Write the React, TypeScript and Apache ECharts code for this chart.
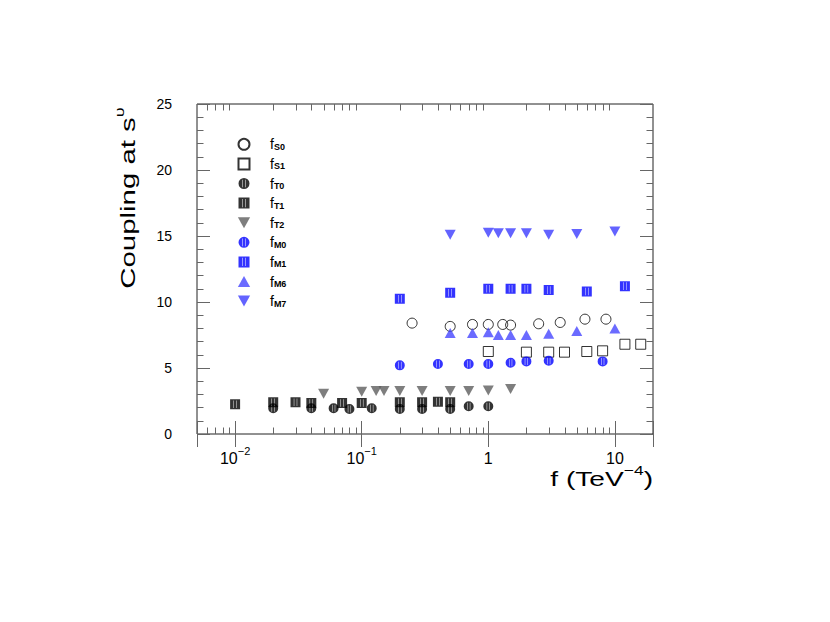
import React, { useEffect, useRef } from "react";
import * as echarts from "echarts";

// ---- data ----
const seriesNames = ["fS0", "fS1", "fT0", "fT1", "fT2", "fM0", "fM1", "fM6", "fM7"];

const fS0x = [0.25, 0.5, 0.75, 1.0, 1.3, 1.5, 2.5, 3.7, 5.8, 8.5];
const fS0y = [8.4, 8.15, 8.3, 8.3, 8.3, 8.25, 8.35, 8.45, 8.7, 8.7];

const fS1x = [1, 2, 3, 4, 6, 8, 12, 16];
const fS1y = [6.25, 6.2, 6.2, 6.2, 6.25, 6.3, 6.8, 6.8];

const fT0x = [0.02, 0.04, 0.06, 0.08, 0.12, 0.2, 0.3, 0.5, 0.7, 1.0];
const fT0y = [1.95, 1.95, 1.95, 1.9, 1.95, 1.9, 1.9, 1.9, 2.1, 2.1];

const fT1x = [0.01, 0.02, 0.03, 0.04, 0.07, 0.1, 0.2, 0.3, 0.4, 0.5];
const fT1y = [2.25, 2.4, 2.4, 2.35, 2.35, 2.35, 2.4, 2.4, 2.45, 2.4];

const fT2x = [0.05, 0.1, 0.13, 0.15, 0.2, 0.3, 0.5, 0.7, 1.0, 1.5];
const fT2y = [3.05, 3.2, 3.25, 3.25, 3.25, 3.25, 3.25, 3.25, 3.3, 3.4];

const fM0x = [0.2, 0.4, 0.7, 1, 1.5, 2, 3, 8];
const fM0y = [5.2, 5.3, 5.3, 5.3, 5.4, 5.5, 5.55, 5.5];

const fM1x = [0.2, 0.5, 1, 1.5, 2, 3, 6, 12];
const fM1y = [10.25, 10.7, 11.0, 11.0, 11.0, 10.9, 10.8, 11.2];

const fM6x = [0.5, 0.75, 1, 1.2, 1.5, 2, 3, 5, 10];
const fM6y = [7.65, 7.65, 7.7, 7.5, 7.5, 7.5, 7.6, 7.8, 8.0];

const fM7x = [0.5, 1, 1.2, 1.5, 2, 3, 5, 10];
const fM7y = [15.1, 15.25, 15.2, 15.2, 15.2, 15.1, 15.15, 15.35];

const xMinorTicks = [
  0.006, 0.007, 0.008, 0.009,
  0.02, 0.03, 0.04, 0.05, 0.06, 0.07, 0.08, 0.09,
  0.2, 0.3, 0.4, 0.5, 0.6, 0.7, 0.8, 0.9,
  2, 3, 4, 5, 6, 7, 8, 9,
];

// ---- symbols ----
const OPEN_SQUARE = "path://M0 0H10V10H0Z";
const STRIPED_SQUARE =
  "path://M0 0H10V10H0Z M3.3 1.2V8.8H3.75V1.2Z M6.25 1.2V8.8H6.7V1.2Z";
const STRIPED_CIRCLE =
  "path://M5 0A5 5 0 1 1 5 10A5 5 0 1 1 5 0Z M3.4 1.5V8.5H3.85V1.5Z M6.15 1.5V8.5H6.6V1.5Z";
const TRI_DOWN = "path://M0 0H10L5 9Z";
const TRI_UP = "path://M5 0L10 9H0Z";

const FONT = "'Liberation Sans', Arial, Helvetica, sans-serif";

function zip(xs: number[], ys: number[]) {
  return xs.map((x, i) => [x, ys[i]]);
}

export default function App() {
  const ref = useRef<HTMLDivElement>(null);

  useEffect(() => {
    if (!ref.current) return;
    const chart = echarts.init(ref.current, undefined, { renderer: "svg" });

    const mk = (
      name: string,
      xs: number[],
      ys: number[],
      symbol: string,
      size: number | number[],
      itemStyle: any
    ) => ({
      type: "scatter",
      name,
      data: zip(xs, ys),
      symbol,
      symbolSize: size,
      itemStyle,
      xAxisIndex: 0,
      yAxisIndex: 0,
      emphasis: { disabled: true },
    });

    const tickColor = "#666";

    const xLabelFormatter = (v: number) => {
      const l = Math.log10(v);
      const e = Math.round(l);
      if (Math.abs(l - e) > 1e-6) return "";
      if (e === 0) return "{b|1}";
      if (e === 1) return "{b|10}";
      return "{b|10}{e|\u2212" + -e + "}";
    };

    const xAxisBase = {
      type: "log",
      logBase: 10,
      min: 0.005,
      max: 20,
      axisLine: { show: false },
      splitLine: { show: false },
      axisTick: { show: true, inside: true, length: 13, lineStyle: { color: tickColor } },
    };
    const yAxisBase = {
      type: "value",
      min: 0,
      max: 25,
      interval: 5,
      axisLine: { show: false },
      splitLine: { show: false },
      axisTick: { show: true, inside: true, length: 13, lineStyle: { color: tickColor } },
      minorTick: { show: true, splitNumber: 5, length: 6.5, lineStyle: { color: tickColor } },
      minorSplitLine: { show: false },
    };

    const option: any = {
      animation: false,
      backgroundColor: "#fff",
      grid: {
        left: 197,
        top: 104,
        width: 456,
        height: 330,
        show: true,
        borderColor: "#222",
        borderWidth: 1,
        backgroundColor: "transparent",
        containLabel: false,
        outerBoundsMode: "none",
      },
      xAxis: [
        {
          ...xAxisBase,
          position: "bottom",
          axisLabel: {
            show: true,
            margin: 11,
            formatter: xLabelFormatter,
            rich: {
              b: { fontSize: 16, fontFamily: FONT, color: "#000", lineHeight: 26, verticalAlign: "middle" },
              e: { fontSize: 11, fontFamily: FONT, color: "#000", lineHeight: 10, verticalAlign: "top" },
            },
          },
        },
        {
          ...xAxisBase,
          position: "top",
          axisLabel: { show: false },
        },
      ],
      yAxis: [
        {
          ...yAxisBase,
          position: "left",
          axisLabel: {
            show: true,
            margin: 25,
            fontSize: 14,
            fontFamily: FONT,
            color: "#000",
          },
        },
        {
          ...yAxisBase,
          position: "right",
          axisLabel: { show: false },
        },
      ],
      legend: {
        data: seriesNames,
        orient: "vertical",
        left: 237.5,
        top: 137.3,
        padding: 0,
        itemWidth: 42,
        itemHeight: 11,
        itemGap: 5.6,
        selectedMode: false,
        symbolKeepAspect: true,
        formatter: (name: string) => "{f|f}{s|" + name.slice(1) + "}",
        textStyle: {
          rich: {
            f: { fontSize: 14, fontFamily: FONT, color: "#000", lineHeight: 14 },
            s: {
              fontSize: 9,
              fontFamily: FONT,
              fontWeight: "bold",
              color: "#000",
              lineHeight: 6,
              verticalAlign: "bottom",
            },
          },
        },
      },
      graphic: [
        {
          type: "text",
          x: 653,
          y: 479,
          scaleX: 1.34,
          style: {
            text: "{a|f (TeV}{s|\u22124}{a|)}",
            align: "right",
            verticalAlign: "middle",
            rich: {
              a: { fontSize: 21, fontFamily: FONT, fill: "#000", lineHeight: 30, verticalAlign: "middle" },
              s: { fontSize: 13, fontFamily: FONT, fill: "#000", lineHeight: 12, verticalAlign: "top" },
            },
          },
        },
        {
          type: "text",
          x: 127.5,
          y: 198,
          rotation: Math.PI / 2,
          scaleX: 1.4,
          style: {
            text: "{a|Coupling at s}{s|\u03c5}",
            align: "center",
            verticalAlign: "middle",
            rich: {
              a: { fontSize: 21, fontFamily: FONT, fill: "#000", lineHeight: 30, verticalAlign: "middle" },
              s: { fontSize: 13, fontFamily: FONT, fill: "#000", lineHeight: 12, verticalAlign: "top" },
            },
          },
        },
      ],
      series: [
        mk("fS0", fS0x, fS0y, "circle", 10, {
          color: "rgba(0,0,0,0)",
          borderColor: "#000",
          borderWidth: 1,
        }),
        mk("fS1", fS1x, fS1y, OPEN_SQUARE, 10, {
          color: "rgba(0,0,0,0)",
          borderColor: "#000",
          borderWidth: 1,
        }),
        mk("fT0", fT0x, fT0y, STRIPED_CIRCLE, 10, { color: "#000" }),
        mk("fT1", fT1x, fT1y, STRIPED_SQUARE, 10, { color: "#000" }),
        mk("fT2", fT2x, fT2y, TRI_DOWN, [11, 10], { color: "#5e5e5e" }),
        mk("fM0", fM0x, fM0y, STRIPED_CIRCLE, 10, { color: "#0000ff" }),
        mk("fM1", fM1x, fM1y, STRIPED_SQUARE, 10, { color: "#0000ff" }),
        mk("fM6", fM6x, fM6y, TRI_UP, [11, 10], { color: "#4646ff" }),
        mk("fM7", fM7x, fM7y, TRI_DOWN, [11, 10], { color: "#3c3cff" }),
        {
          type: "custom",
          name: "xMinorTicks",
          silent: true,
          xAxisIndex: 0,
          yAxisIndex: 0,
          z: 3,
          data: xMinorTicks.map((v) => [v, 0]),
          renderItem: (params: any, api: any) => {
            const p = api.coord([api.value(0), api.value(1)]);
            const cs = params.coordSys;
            const x = Math.round(p[0]) + 0.5;
            const top = cs.y;
            const bottom = cs.y + cs.height;
            const st = { stroke: tickColor, lineWidth: 1 };
            return {
              type: "group",
              children: [
                { type: "line", shape: { x1: x, y1: bottom, x2: x, y2: bottom - 6.5 }, style: st },
                { type: "line", shape: { x1: x, y1: top, x2: x, y2: top + 6.5 }, style: st },
              ],
            };
          },
        },
      ],
    };

    chart.setOption(option);
    return () => {
      chart.dispose();
    };
  }, []);

  return (
    <div
      ref={ref}
      style={{ position: "absolute", left: 0, top: 0, width: 830, height: 622, background: "#fff" }}
    />
  );
}
